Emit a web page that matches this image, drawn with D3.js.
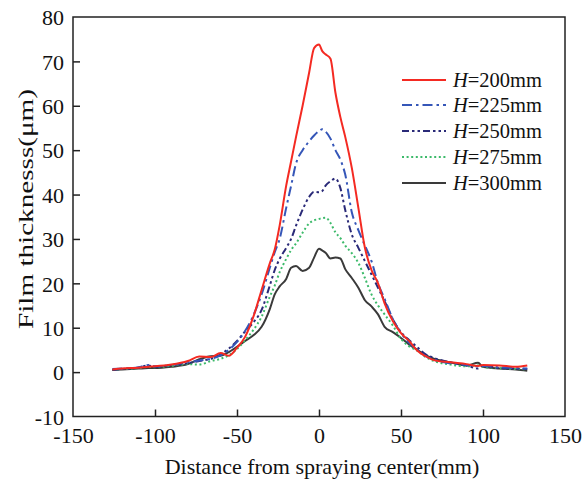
<!DOCTYPE html>
<html><head><meta charset="utf-8">
<script src="https://cdn.jsdelivr.net/npm/d3@7"></script>
<style>body{margin:0;background:#fff}svg{display:block}text{font-family:"Liberation Serif","Times New Roman",serif;fill:#111}</style>
</head><body><svg id="c" width="587" height="483"></svg>
<script>
const xs = [-126,-120,-110,-104,-100,-90,-80,-73,-66,-60,-55,-50,-45,-40,-35,-30,-27,-24,-20,-17,-14,-10,-6,-3,0,2,4,7,10,13,16,20,24,28,32,36,40,45,50,55,60,65,70,80,90,97,100,110,120,127];
const h200 = [0.6,0.8,1.0,1.2,1.3,1.7,2.5,3.5,3.4,4.3,3.7,5.5,8.0,12.5,18.5,24.5,27.6,33,42,47.5,53,60,67.5,73,73.8,72.3,71.6,70.6,63,57.5,53,46,37,28,23,20,15.5,11.5,8.8,7,4.8,3.6,2.7,2.2,1.8,1.4,1.6,1.5,1.2,1.5];
const h225 = [0.7,0.8,1.1,1.6,1.3,1.6,2.2,2.6,3.0,3.8,5.0,6.8,9.3,12.8,17.5,23.5,27,30,37,42,47,50,52,53.3,54.3,54.7,54.2,52.6,50,47.9,44.5,36,32,28.5,25,20,16.5,12,8.8,6.6,5.0,3.6,2.8,2.0,1.6,1.3,1.4,1.1,0.9,0.8];
const h250 = [0.5,0.7,1.0,1.5,1.2,1.6,2.0,2.5,3.0,4.0,5.3,7.0,9.2,11.2,14,19.5,23,25.5,28,30,33,36.6,39.5,40.6,40.5,40.8,42,43,43.6,41.5,36.5,31,28,25,22,19,16,11.9,9,7.2,5.6,4,3.2,2.2,1.5,0.8,1.4,0.9,0.8,0.7];
const h275 = [0.5,0.7,0.9,1.2,1.1,1.4,1.8,1.7,2.5,3.0,3.8,5.2,7.2,9.5,12.5,17,19.5,22.5,25.5,27.5,29,31.4,33.5,34.2,34.5,34.7,34.8,33.6,31.5,30.2,28.5,26.8,24.6,21.2,17.5,15,13,10.5,7.5,5.8,4.8,3.4,2.5,1.7,1.3,1.5,1.2,0.9,0.7,0.6];
const h300 = [0.5,0.6,0.8,0.9,0.9,1.2,1.8,2.9,3.6,3.7,4.5,5.7,7.0,8.3,10.2,14.2,17.5,19.3,21,23.5,23.9,22.8,23.5,25.8,27.8,27.4,26.9,25.6,25.8,25.6,23.2,21.2,19,16.2,14.8,13,10.2,9,7.7,6.2,5.0,3.8,3.0,2.2,1.5,2.1,1.2,0.8,0.6,0.3];
const seriesNames = ["200","225","250","275","300"];
const xTicks = [-150,-100,-50,0,50,100,150];
const yTicks = [-10,0,10,20,30,40,50,60,70,80];

const svg = d3.select("#c");
const L=73,R=565,T=17,B=416.5;
const x = d3.scaleLinear().domain([-150,150]).range([L,R]);
const y = d3.scaleLinear().domain([-10,80]).range([B,T]);
const fmt = d => String(d);

const styles = [
  {c:"#f42a22", d:null, w:2},
  {c:"#3556b8", d:"10,4,2.5,4", w:2},
  {c:"#2a2a78", d:"7,3,2.5,3,2.5,3", w:2},
  {c:"#3cba6a", d:"2,2.6", w:2},
  {c:"#3a3a3a", d:null, w:2}
];
const data = [h200,h225,h250,h275,h300];

const line = d3.line().x((d,i)=>x(xs[i])).y(d=>y(d)).curve(d3.curveMonotoneX);
const g = svg.append("g");
data.slice().reverse().forEach((s,ri)=>{
  const k = data.length-1-ri;
  g.append("path").attr("d",line(s)).attr("fill","none")
   .attr("stroke",styles[k].c).attr("stroke-width",styles[k].w)
   .attr("stroke-dasharray",styles[k].d).attr("stroke-linejoin","round");
});

// axes
const xa = svg.append("g").attr("transform",`translate(0,${B})`)
  .call(d3.axisBottom(x).tickValues(xTicks).tickSizeInner(-7).tickSizeOuter(0).tickPadding(11).tickFormat(fmt));
const ya = svg.append("g").attr("transform",`translate(${L},0)`)
  .call(d3.axisLeft(y).tickValues(yTicks).tickSizeInner(-7).tickSizeOuter(0).tickPadding(9).tickFormat(fmt));
[xa,ya].forEach(a=>{
  a.select(".domain").remove();
  a.selectAll(".tick line").attr("stroke","#222").attr("stroke-width",1.5);
  a.selectAll(".tick text").style("font-family","Liberation Serif").style("font-size","22px").attr("fill","#111");
});
xa.selectAll(".tick line").filter(d=>d===-150||d===150).remove();
ya.selectAll(".tick line").filter(d=>d===-10||d===80).remove();
ya.selectAll(".tick text").attr("dy","0.35em");
xa.selectAll(".tick text").attr("dy","0.71em");

svg.append("rect").attr("x",L).attr("y",T).attr("width",R-L).attr("height",B-T)
  .attr("fill","none").attr("stroke","#222").attr("stroke-width",1.5);

svg.append("text").attr("x",(L+R)/2+3).attr("y",474).attr("text-anchor","middle")
  .style("font-size","22px").text("Distance from spraying center(mm)");
svg.append("text").attr("transform","translate(33,209) rotate(-90)").attr("text-anchor","middle")
  .style("font-size","22px").attr("textLength",240).attr("lengthAdjust","spacingAndGlyphs").text("Film thicknesss(μm)");

// legend
const ly = [80,105,131,157,183];
seriesNames.forEach((n,i)=>{
  svg.append("line").attr("x1",402).attr("x2",446).attr("y1",ly[i]).attr("y2",ly[i])
    .attr("stroke",styles[i].c).attr("stroke-width",styles[i].w).attr("stroke-dasharray",styles[i].d);
  const t = svg.append("text").attr("x",453).attr("y",ly[i]).attr("dy","0.35em").style("font-size","20.5px");
  t.append("tspan").style("font-style","italic").text("H");
  t.append("tspan").text("="+n+"mm");
});
</script></body></html>
